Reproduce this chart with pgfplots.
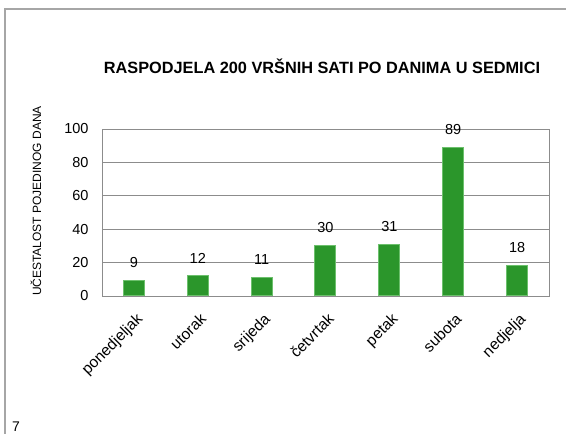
\documentclass[border=0pt]{standalone}
\usepackage{pgfplots}
\pgfplotsset{compat=1.18}
\usepackage{fontspec}
\setmainfont{Liberation Sans}
\definecolor{bargreen}{HTML}{2B962B}
\definecolor{baredge}{HTML}{6CC06C}
\definecolor{gridgray}{HTML}{8C8C8C}
\definecolor{framegray}{HTML}{A6A6A6}

\begin{document}
\begin{tikzpicture}[x=1pt,y=1pt]
\useasboundingbox (0,0) rectangle (566,434);
% page frame, cut by the picture edge on the right and bottom
\draw[framegray,line width=1.5pt] (5,-10) |- (580,425);
\node[anchor=base west,inner sep=0pt,font=\fontsize{14}{16}\selectfont] at (12,2) {7};
\node[anchor=base,inner sep=0pt,font=\bfseries\fontsize{16.3}{19}\selectfont] at (322,360)
  {RASPODJELA 200 VRŠNIH SATI PO DANIMA U SEDMICI};
\begin{axis}[
  at={(102pt,138pt)}, anchor=south west,
  scale only axis, width=447pt, height=167pt,
  xmin=-0.5, xmax=6.5, ymin=0, ymax=100,
  ytick={0,20,40,60,80,100},
  xtick=data,
  xticklabels={ponedjeljak,utorak,srijeda,četvrtak,petak,subota,nedjelja},
  major tick length=0pt,
  ymajorgrids,
  grid style={gridgray,line width=0.8pt},
  axis line style={gridgray,line width=0.8pt},
  /pgf/number format/assume math mode=true,
  tick label style={font=\fontsize{14.5}{16}\selectfont},
  yticklabel style={xshift=-10pt},
  xticklabel style={font=\fontsize{15.5}{17}\selectfont,rotate=45,anchor=north east,
    xshift=-7pt,yshift=-9pt},
  ybar, bar width=21pt,
  nodes near coords,
  nodes near coords style={font=\fontsize{14.5}{16}\selectfont,yshift=9pt,
    /pgf/number format/assume math mode=true},
]
\addplot[fill=bargreen,draw=baredge,line width=1pt] coordinates {
  (0,9) (1,12) (2,11) (3,30) (4,31) (5,89) (6,18)};
\end{axis}
\node[rotate=90,font=\fontsize{12}{14}\selectfont] at (36,233) {UČESTALOST POJEDINOG DANA};
\end{tikzpicture}
\end{document}
